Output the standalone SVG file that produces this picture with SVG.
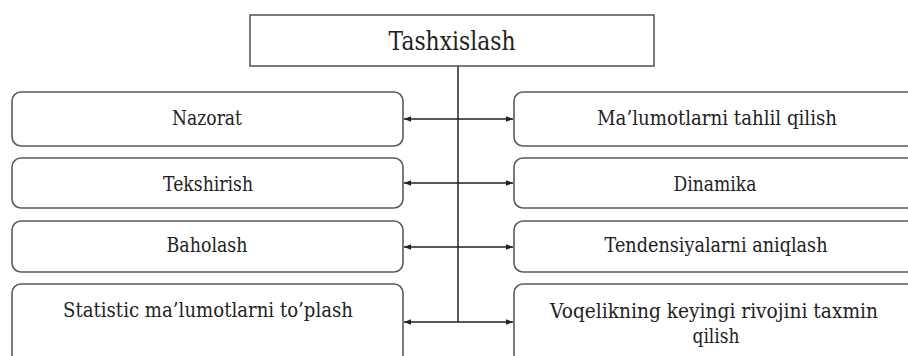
<svg xmlns="http://www.w3.org/2000/svg" width="908" height="356" viewBox="0 0 908 356">
  <style>
    .box { fill: #ffffff; stroke: #5a5a5a; stroke-width: 1.6; }
    .title { fill: #ffffff; stroke: #5a5a5a; stroke-width: 1.6; }
    text { font-family: "DejaVu Serif", "Liberation Serif", serif; fill: #222222; text-anchor: middle; }
    .t { font-size: 21px; }
    .h { font-size: 26px; }
    .conn { stroke: #222222; stroke-width: 1.5; fill: none; }
  </style>
  <defs>
    <marker id="arr" viewBox="0 0 10 10" refX="10" refY="5" markerWidth="7" markerHeight="7" markerUnits="userSpaceOnUse" orient="auto-start-reverse">
      <path d="M0,1 L10,5 L0,9 Z" fill="#222222"/>
    </marker>
  </defs>
  <rect width="908" height="356" fill="#ffffff"/>

  <g id="connectors">
    <line class="conn" x1="458" y1="66" x2="458" y2="322"/>
    <line class="conn" x1="404" y1="119" x2="513" y2="119" marker-start="url(#arr)" marker-end="url(#arr)"/>
    <line class="conn" x1="404" y1="183" x2="513" y2="183" marker-start="url(#arr)" marker-end="url(#arr)"/>
    <line class="conn" x1="404" y1="247" x2="513" y2="247" marker-start="url(#arr)" marker-end="url(#arr)"/>
    <line class="conn" x1="404" y1="322" x2="513" y2="322" marker-start="url(#arr)" marker-end="url(#arr)"/>
  </g>

  <g id="tashxislash">
    <rect class="title" x="250" y="15" width="404" height="51"/>
    <text class="h" x="452" y="50" textLength="127" lengthAdjust="spacingAndGlyphs">Tashxislash</text>
  </g>

  <g id="nazorat">
    <rect class="box" x="12" y="92" width="391" height="54" rx="9"/>
    <text class="t" x="207" y="125" textLength="70" lengthAdjust="spacingAndGlyphs">Nazorat</text>
  </g>
  <g id="tekshirish">
    <rect class="box" x="12" y="158" width="391" height="50" rx="9"/>
    <text class="t" x="208" y="191" textLength="90" lengthAdjust="spacingAndGlyphs">Tekshirish</text>
  </g>
  <g id="baholash">
    <rect class="box" x="12" y="221" width="391" height="51" rx="9"/>
    <text class="t" x="207" y="252" textLength="81" lengthAdjust="spacingAndGlyphs">Baholash</text>
  </g>
  <g id="statistic">
    <rect class="box" x="12" y="284" width="391" height="90" rx="9"/>
    <text class="t" x="208" y="317" textLength="290" lengthAdjust="spacingAndGlyphs">Statistic ma’lumotlarni to’plash</text>
  </g>

  <g id="malumotlarni">
    <rect class="box" x="514" y="92" width="406" height="54" rx="9"/>
    <text class="t" x="717" y="125" textLength="240" lengthAdjust="spacingAndGlyphs">Ma’lumotlarni tahlil qilish</text>
  </g>
  <g id="dinamika">
    <rect class="box" x="514" y="158" width="406" height="50" rx="9"/>
    <text class="t" x="715" y="191" textLength="83" lengthAdjust="spacingAndGlyphs">Dinamika</text>
  </g>
  <g id="tendensiyalarni">
    <rect class="box" x="514" y="221" width="406" height="51" rx="9"/>
    <text class="t" x="716" y="252" textLength="223" lengthAdjust="spacingAndGlyphs">Tendensiyalarni aniqlash</text>
  </g>
  <g id="voqelikning">
    <rect class="box" x="514" y="284" width="406" height="90" rx="9"/>
    <text class="t" x="714" y="318" textLength="328" lengthAdjust="spacingAndGlyphs">Voqelikning keyingi rivojini taxmin</text>
    <text class="t" x="716" y="343" textLength="47" lengthAdjust="spacingAndGlyphs">qilish</text>
  </g>
</svg>
